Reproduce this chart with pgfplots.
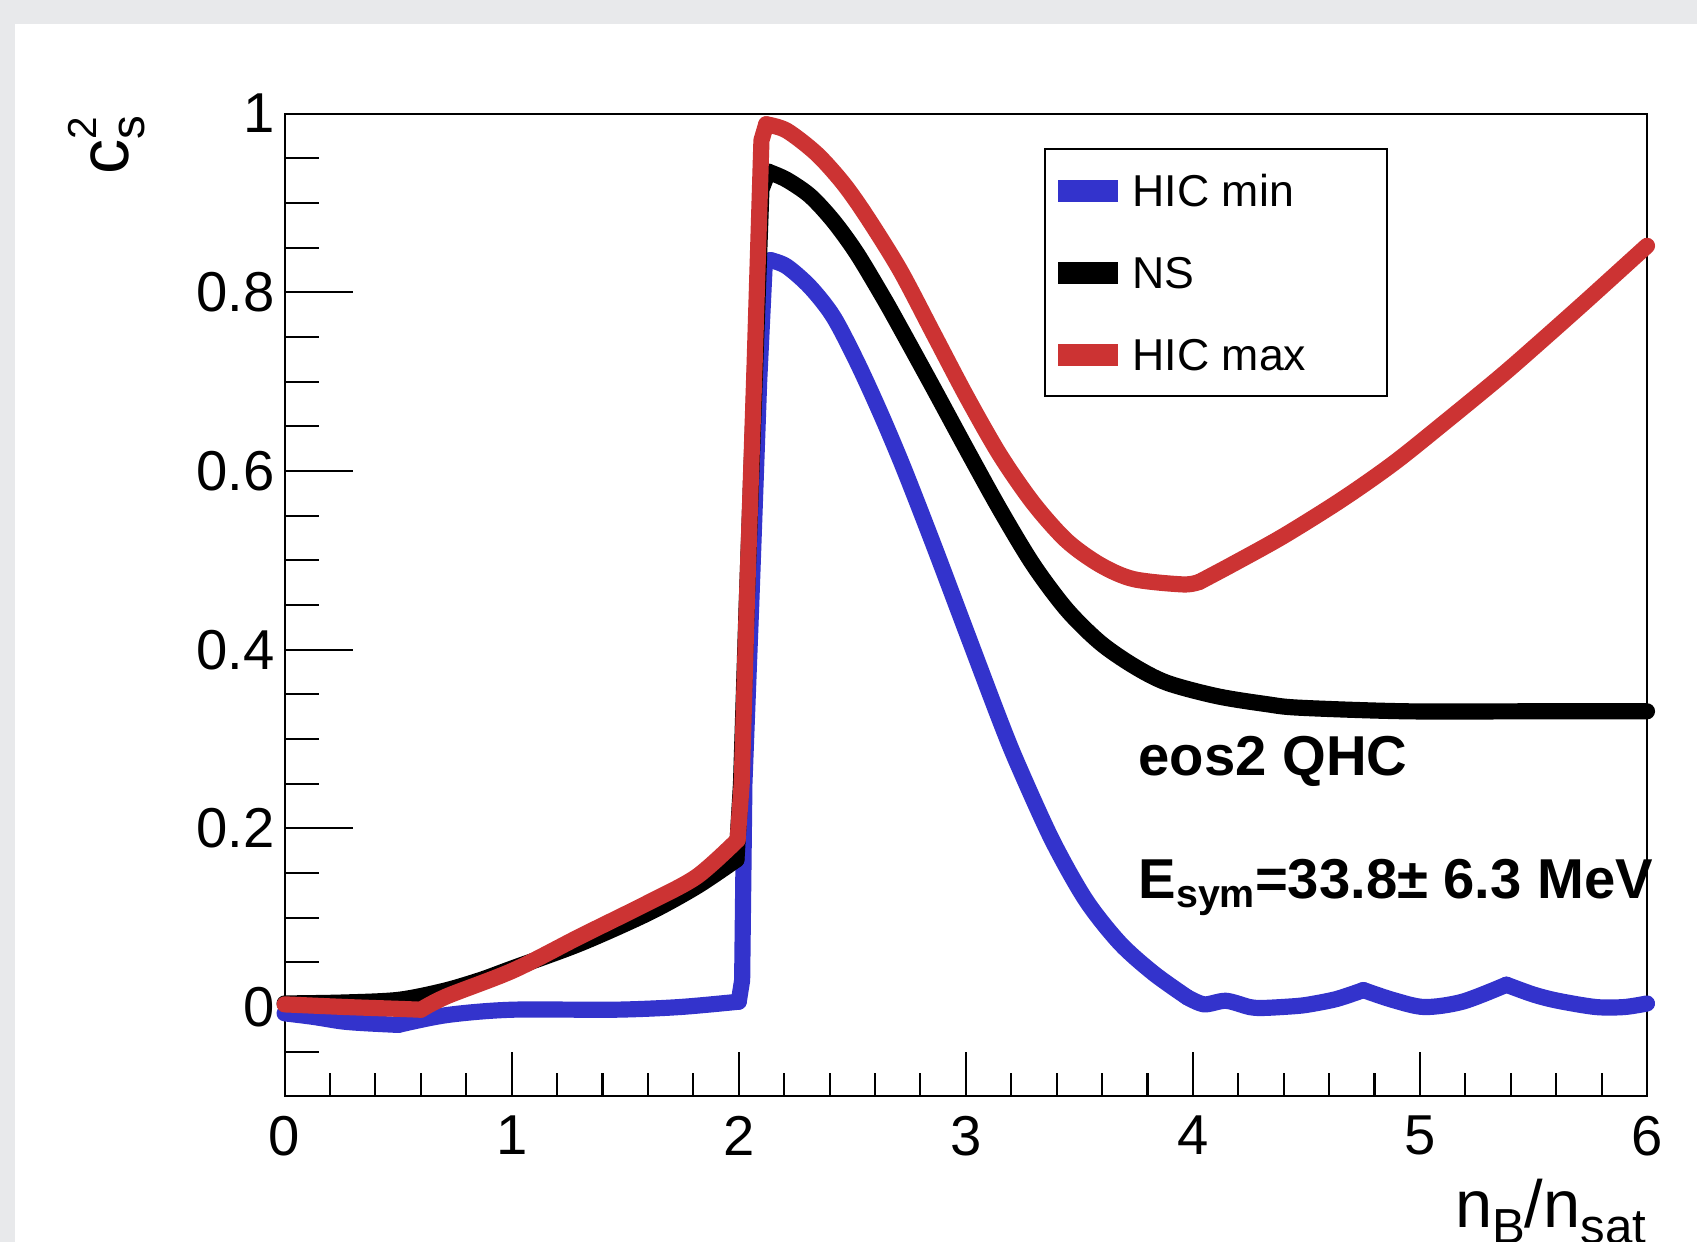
\documentclass[border=0pt]{standalone}
\usepackage{fontspec}
\setmainfont{Liberation Sans}
\usepackage{pgfplots}
\pgfplotsset{compat=1.18}
\definecolor{rootblue}{HTML}{3333CC}
\definecolor{rootred}{HTML}{CC3333}
\definecolor{bggray}{HTML}{E8E9EB}

\pgfplotstableread{
x y
0 -0.007
0.126 -0.011
0.25 -0.016
0.347 -0.018
0.5 -0.020
0.714 -0.009
1.0 -0.003
1.45 -0.003
1.74 0.0
2.0 0.006
2.015 0.03
2.025 0.25
2.055 0.45
2.09 0.70
2.115 0.834
2.14 0.836
2.211 0.829
2.314 0.806
2.416 0.773
2.519 0.723
2.622 0.666
2.725 0.604
2.857 0.518
3.004 0.419
3.15 0.321
3.23 0.271
3.38 0.187
3.528 0.120
3.677 0.072
3.826 0.038
3.975 0.011
4.05 0.003
4.146 0.007
4.25 0.0
4.313 -0.001
4.45 0.001
4.515 0.003
4.633 0.009
4.751 0.019
4.88 0.008
5.02 0.0
5.188 0.006
5.381 0.025
5.5 0.014
5.608 0.007
5.775 0.0
5.9 0.0
6.0 0.004
}\hicmin

\pgfplotstableread{
x y
0 0.004
0.25 0.005
0.5 0.008
0.7 0.018
0.86 0.030
1.0 0.043
1.3 0.071
1.6 0.105
1.815 0.135
1.99 0.165
2.01 0.25
2.035 0.45
2.07 0.70
2.1 0.915
2.13 0.935
2.211 0.926
2.314 0.908
2.416 0.880
2.519 0.844
2.637 0.794
2.71 0.761
2.857 0.693
3.004 0.624
3.15 0.557
3.297 0.495
3.444 0.445
3.591 0.408
3.738 0.382
3.885 0.363
4.105 0.348
4.325 0.339
4.472 0.335
4.942 0.331
5.5 0.331
6.0 0.331
}\ns

\pgfplotstableread{
x y
0 0.003
0.273 0.0
0.5 -0.002
0.6 -0.003
0.714 0.012
1.007 0.041
1.301 0.079
1.595 0.116
1.815 0.146
1.995 0.187
2.013 0.25
2.036 0.455
2.07 0.72
2.1 0.97
2.121 0.988
2.211 0.981
2.343 0.955
2.46 0.922
2.563 0.885
2.71 0.825
2.857 0.754
3.004 0.683
3.15 0.618
3.297 0.564
3.444 0.522
3.591 0.495
3.738 0.479
3.958 0.473
4.03 0.476
4.178 0.496
4.398 0.527
4.656 0.568
4.886 0.609
5.117 0.656
5.347 0.704
5.501 0.738
5.731 0.790
6.0 0.852
}\hicmax

\pgfplotsset{
  seg/.style args={#1:#2}{restrict x to domain=#1:#2, unbounded coords=discard},
}

\begin{document}
\begin{tikzpicture}
\useasboundingbox (0,0) rectangle (16.97,12.42);
\clip (0,0) rectangle (16.97,12.42);
\fill[bggray] (0,0) rectangle (16.97,12.42);
\fill[white] (0.15,0) rectangle (16.97,12.18);

% y-axis ticks (long)
\begin{axis}[
  at={(2.846cm,1.456cm)}, anchor=south west,
  scale only axis, width=13.624cm, height=9.828cm,
  xmin=0, xmax=6, ymin=-0.1, ymax=1,
  hide x axis,
  axis line style={line width=0.6pt},
  tick style={line width=0.6pt, black},
  ytick pos=left,
  ytick={0,0.2,0.4,0.6,0.8,1},
  minor ytick={-0.05,0.05,0.1,0.15,0.25,0.3,0.35,0.45,0.5,0.55,0.65,0.7,0.75,0.85,0.9,0.95},
  major tick length=0.68cm, minor tick length=0.34cm,
  /pgf/number format/assume math mode=true,
  yticklabel style={font=\fontsize{16}{16}\selectfont, anchor=east, inner sep=0pt, xshift=-0.09cm},
  ylabel={c\rlap{\raisebox{9pt}{\fontsize{11.5}{11.5}\selectfont 2}}\raisebox{-4.7pt}{\fontsize{13.5}{13.5}\selectfont s}},
  every axis y label/.style={at={(rel axis cs:-0.1149,0.9986)}, anchor=base east, rotate=90, inner sep=0pt, font=\fontsize{20}{20}\selectfont},
]
\end{axis}

\begin{axis}[
  at={(2.846cm,1.456cm)}, anchor=south west,
  scale only axis, width=13.624cm, height=9.828cm,
  xmin=0, xmax=6, ymin=-0.1, ymax=1,
  clip=false,
  axis line style={line width=0.6pt},
  tick style={line width=0.6pt, black},
  xtick pos=left,
  xtick={0,1,2,3,4,5,6}, minor x tick num=4,
  ytick=\empty,
  major tick length=0.44cm, minor tick length=0.23cm,
  /pgf/number format/assume math mode=true,
  xticklabel style={font=\fontsize{16}{16}\selectfont, anchor=north, inner sep=0pt, yshift=-0.19cm},
  xlabel={n\raisebox{-4.3pt}{\fontsize{14}{14}\selectfont B}/n\raisebox{-4.3pt}{\fontsize{14}{14}\selectfont sat}},
  every axis x label/.style={at={(rel axis cs:1,-0.1339)}, anchor=base east, inner sep=0pt, font=\fontsize{19}{19}\selectfont},
  every axis plot/.append style={line width=4.6pt, line cap=round, line join=round, mark=none},
]
% HIC min
\addplot[rootblue, smooth, seg=-0.01:0.5001] table[x=x,y=y] {\hicmin};
\addplot[rootblue, smooth, seg=0.4999:2.0001] table[x=x,y=y] {\hicmin};
\addplot[rootblue, seg=1.9999:2.1401] table[x=x,y=y] {\hicmin};
\addplot[rootblue, smooth, seg=2.1399:3.9751] table[x=x,y=y] {\hicmin};
\addplot[rootblue, smooth, seg=3.9749:4.7511] table[x=x,y=y] {\hicmin};
\addplot[rootblue, smooth, seg=4.7509:5.3811] table[x=x,y=y] {\hicmin};
\addplot[rootblue, smooth, seg=5.3809:6.01] table[x=x,y=y] {\hicmin};
% NS
\addplot[black, smooth, seg=-0.01:1.9901] table[x=x,y=y] {\ns};
\addplot[black, seg=1.9899:2.1301] table[x=x,y=y] {\ns};
\addplot[black, smooth, seg=2.1299:6.01] table[x=x,y=y] {\ns};
% HIC max
\addplot[rootred, smooth, seg=-0.01:0.6001] table[x=x,y=y] {\hicmax};
\addplot[rootred, smooth, seg=0.5999:1.9951] table[x=x,y=y] {\hicmax};
\addplot[rootred, seg=1.9949:2.1211] table[x=x,y=y] {\hicmax};
\addplot[rootred, smooth, seg=2.1209:4.0301] table[x=x,y=y] {\hicmax};
\addplot[rootred, smooth, seg=4.0299:6.01] table[x=x,y=y] {\hicmax};

\node[anchor=base west, inner sep=0pt, font=\bfseries\fontsize{16}{16}\selectfont] at (rel axis cs:0.6264,0.327) {eos2 QHC};
\node[anchor=base west, inner sep=0pt, font=\bfseries\fontsize{16}{16}\selectfont] at (rel axis cs:0.6264,0.2009) {E\raisebox{-2.5pt}{\fontsize{11.2}{11.2}\selectfont sym}=33.8± 6.3 MeV};
\end{axis}

% legend
\draw[line width=0.6pt, fill=white] (10.45,10.93) rectangle (13.87,8.46);
\draw[rootblue, line width=6.26pt] (10.58,10.51) -- (11.18,10.51);
\draw[black, line width=6.26pt] (10.58,9.69) -- (11.18,9.69);
\draw[rootred, line width=6.26pt] (10.58,8.87) -- (11.18,8.87);
\node[anchor=west, inner sep=0pt, font=\fontsize{12.7}{12.7}\selectfont] at (11.32,10.51) {HIC min};
\node[anchor=west, inner sep=0pt, font=\fontsize{12.7}{12.7}\selectfont] at (11.32,9.69) {NS};
\node[anchor=west, inner sep=0pt, font=\fontsize{12.7}{12.7}\selectfont] at (11.32,8.87) {HIC max};
\end{tikzpicture}
\end{document}
